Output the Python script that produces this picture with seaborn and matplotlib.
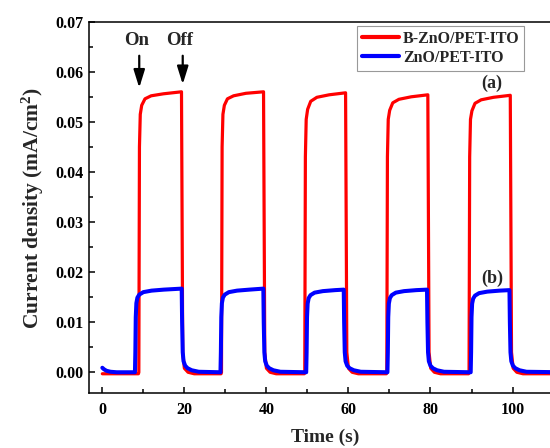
import numpy as np
import pandas as pd
import matplotlib
matplotlib.use("Agg")
import matplotlib.pyplot as plt
import seaborn as sns
from matplotlib.ticker import MultipleLocator

# ---- data ----
red_label = "B-ZnO/PET-ITO"
blue_label = "ZnO/PET-ITO"

red_t = [0, 8.8, 8.9, 9.05, 9.25, 9.6, 10.4, 11.9, 14.9, 19.3, 19.45, 19.6, 20.0, 20.9, 22.4,
         28.95, 29.05, 29.2, 29.4, 29.75, 30.5, 32.0, 35.0, 39.3, 39.45, 39.6, 40.0, 40.9, 42.4,
         49.25, 49.35, 49.5, 49.7, 50.05, 50.8, 52.3, 55.3, 59.3, 59.45, 59.6, 60.0, 60.9, 62.4,
         69.25, 69.35, 69.5, 69.7, 70.05, 70.8, 72.3, 75.3, 79.35, 79.5, 79.65, 80.05, 80.95, 82.45,
         89.3, 89.4, 89.55, 89.75, 90.1, 90.85, 92.35, 95.35, 99.45, 99.6, 99.75, 100.15, 101.05, 102.55, 112]
red_y = [-0.0003, -0.0003, 0.0, 0.045, 0.0515, 0.0533, 0.0546, 0.0552, 0.0556, 0.0560, 0.030, 0.004, 0.0008, 0.0, -0.0003,
         -0.0003, 0.0, 0.045, 0.0515, 0.0533, 0.0546, 0.0552, 0.0557, 0.0560, 0.030, 0.004, 0.0008, 0.0, -0.0003,
         -0.0003, 0.0, 0.043, 0.0505, 0.0525, 0.0541, 0.0549, 0.0554, 0.0558, 0.030, 0.004, 0.0008, 0.0, -0.0003,
         -0.0003, 0.0, 0.043, 0.0505, 0.0523, 0.0538, 0.0545, 0.0550, 0.0554, 0.030, 0.004, 0.0008, 0.0, -0.0003,
         -0.0003, 0.0, 0.043, 0.0505, 0.0522, 0.0537, 0.0544, 0.0549, 0.0553, 0.030, 0.004, 0.0008, 0.0, -0.0003, -0.0003]

blue_t = [0, 0.4, 1.0, 2.0, 3.5,
          7.95, 8.05, 8.15, 8.3, 8.55, 9.0, 10.0, 12.0, 15.0, 19.35, 19.45, 19.6, 19.8, 20.2, 20.8, 21.8, 23.5,
          28.8, 28.9, 29.0, 29.15, 29.4, 29.85, 30.85, 32.85, 35.85, 39.25, 39.35, 39.5, 39.7, 40.1, 40.7, 41.7, 43.4,
          49.7, 49.8, 49.9, 50.05, 50.3, 50.75, 51.75, 53.75, 56.75, 58.85, 58.95, 59.1, 59.3, 59.7, 60.3, 61.3, 63.0,
          69.5, 69.6, 69.7, 69.85, 70.1, 70.55, 71.55, 73.55, 76.55, 79.15, 79.25, 79.4, 79.6, 80.0, 80.6, 81.6, 83.3,
          89.8, 89.9, 90.0, 90.15, 90.4, 90.85, 91.85, 93.85, 96.85, 99.25, 99.35, 99.5, 99.7, 100.1, 100.7, 101.7, 103.4, 112]
blue_y = [0.0009, 0.0006, 0.0003, 0.0001, 0.0,
          0.0, 0.004, 0.011, 0.0138, 0.0149, 0.0155, 0.0160, 0.0163, 0.0165, 0.0167, 0.010, 0.004, 0.0022, 0.0013, 0.0008, 0.0004, 0.0001,
          0.0, 0.004, 0.011, 0.0138, 0.0149, 0.0155, 0.0160, 0.0163, 0.0165, 0.0167, 0.010, 0.004, 0.0022, 0.0013, 0.0008, 0.0004, 0.0001,
          0.0, 0.004, 0.011, 0.0137, 0.0148, 0.0154, 0.0159, 0.0162, 0.0164, 0.0165, 0.010, 0.004, 0.0022, 0.0013, 0.0008, 0.0004, 0.0001,
          0.0, 0.004, 0.011, 0.0137, 0.0148, 0.0154, 0.0159, 0.0162, 0.0164, 0.0165, 0.010, 0.004, 0.0022, 0.0013, 0.0008, 0.0004, 0.0001,
          0.0, 0.004, 0.011, 0.0137, 0.0147, 0.0153, 0.0158, 0.0161, 0.0163, 0.0164, 0.010, 0.004, 0.0022, 0.0013, 0.0008, 0.0004, 0.0001, 0.0]

x_label = "Time (s)"
y_label = "Current density (mA/cm$^\\mathbf{2}$)"

red_df = pd.DataFrame({"t": red_t, "j": red_y})
blue_df = pd.DataFrame({"t": blue_t, "j": blue_y})

sns.set_theme(style="ticks")
plt.rcParams["font.family"] = ["Liberation Serif", "DejaVu Serif"]
plt.rcParams["font.weight"] = "bold"
plt.rcParams["mathtext.fontset"] = "custom"
plt.rcParams["mathtext.rm"] = "Liberation Serif:bold"
plt.rcParams["mathtext.bf"] = "Liberation Serif:bold"
plt.rcParams["mathtext.default"] = "bf"

fig = plt.figure(figsize=(5.5, 4.48), dpi=100)
ax = fig.add_axes([0.1624, 0.1221, 0.856, 0.8295])

sns.lineplot(data=red_df, x="t", y="j", ax=ax, color="#ff0000", lw=2.3,
             sort=False, estimator=None, label=red_label)
sns.lineplot(data=blue_df, x="t", y="j", ax=ax, color="#0000ff", lw=2.9,
             sort=False, estimator=None, label=blue_label)

ax.set_xlim(-3.17, 111.6)
ax.set_ylim(-0.0042, 0.0700)
ax.xaxis.set_major_locator(MultipleLocator(20))
ax.xaxis.set_minor_locator(MultipleLocator(10))
ax.yaxis.set_major_locator(MultipleLocator(0.01))
ax.yaxis.set_minor_locator(MultipleLocator(0.005))
ax.yaxis.set_major_formatter(matplotlib.ticker.FormatStrFormatter("%.2f"))

ax.tick_params(which="both", direction="in", width=1.1, colors="black",
               labelsize=11.5, top=False, right=False)
ax.tick_params(which="major", length=4.5)
ax.tick_params(which="minor", length=2.8)
ax.tick_params(axis="y", pad=4)
ax.tick_params(axis="x", pad=6)
for lab in ax.get_xticklabels() + ax.get_yticklabels():
    lab.set_fontweight("bold")
for s in ax.spines.values():
    s.set_linewidth(1.1)
    s.set_color("black")

ax.set_xlabel(x_label, fontsize=14, fontweight="bold", labelpad=8)
ax.set_ylabel(y_label, fontsize=15.5, fontweight="bold", labelpad=7)

leg = ax.legend(loc="upper right", bbox_to_anchor=(0.924, 0.989), borderaxespad=0,
                handlelength=2.3, handletextpad=0.25, borderpad=0.3,
                labelspacing=0.2, fancybox=False, framealpha=1, edgecolor="#999999",
                prop={"weight": "bold", "size": 11.5})
leg.get_frame().set_linewidth(0.8)
for line in leg.get_lines():
    line.set_linewidth(3.0)

# annotations
ax.text(8.4, 0.0663, "On", ha="center", va="center", fontsize=13.5, fontweight="bold")
ax.text(18.8, 0.0663, "Off", ha="center", va="center", fontsize=13.5, fontweight="bold")
for xa, ytip in [(9.0, 0.0568), (19.6, 0.0575)]:
    ax.annotate("", xy=(xa, ytip), xytext=(xa, 0.0632),
                arrowprops=dict(arrowstyle="-|>,head_length=0.9,head_width=0.28",
                                color="black", lw=1.6, shrinkA=0, shrinkB=0))
ax.text(94.9, 0.0577, "(a)", ha="center", va="center", fontsize=13, fontweight="bold")
ax.text(95.0, 0.0188, "(b)", ha="center", va="center", fontsize=13, fontweight="bold")

fig.savefig("out.png", dpi=100)
